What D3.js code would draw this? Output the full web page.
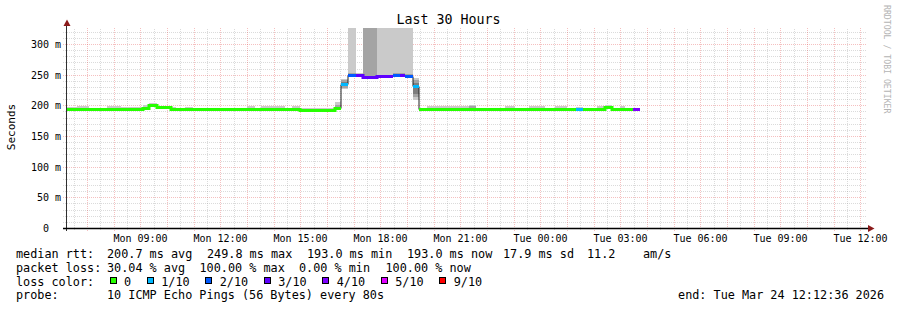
<!DOCTYPE html>
<html>
<head>
<meta charset="utf-8">
<script src="https://cdn.jsdelivr.net/npm/d3@7"></script>
<style>
    body { margin: 0; background: #fff; }
    svg text { font-family: 'DejaVu Sans Mono', monospace; white-space: pre; }
</style>
</head>
<body>
<svg id="chart" width="897" height="310"></svg>
<script>
const title = 'Last 30 Hours'
const yTitle = 'Seconds'
const watermark = 'RRDTOOL / TOBI OETIKER'
const monday = Date.UTC(2026, 2, 23)
const startTime = Date.UTC(2026, 2, 23, 6, 12, 36)
const endTime = Date.UTC(2026, 2, 24, 12, 12, 36)

// sample start times, hours after Mon 00:00 (each sample lasts until the next one)
const sampleHours = [6.21, 6.62, 7.07, 7.71, 8.27, 9.06, 9.32, 9.585, 10.11, 10.30, 10.635, 10.935,
    12.995, 13.26, 13.52, 14.385, 14.65, 14.95, 16.26, 16.485, 16.785, 17.05, 17.31, 17.835,
    18.435, 18.70, 18.92, 19.185, 19.41, 19.71, 21.32, 21.585, 22.635, 23.01, 23.57, 24.135,
    24.51, 24.96, 25.30, 25.56, 26.12, 26.385, 26.65, 26.95, 27.135, 27.435]
const lastSampleEnd = 27.70
// median rtt in ms
const medianMs = [194.5, 194.5, 194.5, 194.5, 194, 196, 200, 196.5, 194, 194, 194, 193.8,
    193.8, 193.8, 193.8, 193.5, 193.5, 193, 196, 235.5, 249.8, 249, 246, 247.5,
    249.8, 249.5, 248.5, 232, 193.5, 193.5, 193.5, 193.5, 193.5, 193.5, 193.3, 193.3,
    193.3, 193.3, 193.3, 193.3, 193.3, 197, 193.5, 193.5, 193.3, 193.3]
// lost pings out of 10
const lossCount = [0, 0, 0, 0, 0, 0, 0, 0, 0, 0, 0, 0,
    0, 0, 0, 0, 0, 0, 0, 1, 2, 3, 3, 3,
    2, 3, 2, 1, 0, 0, 0, 0, 0, 0, 0, 0,
    0, 0, 1, 0, 0, 0, 0, 0, 0, 4]
// smoke: spread of the pings (outer = min..max, then inner bands)
const smokeOuter = [[193, 197.5], [193, 199], [193, 196], [193, 199], [192.5, 196.5], [194, 200],
    [197, 204], [194.5, 199.5], [192.5, 198], [192.5, 196], [192.5, 198], [192.5, 196],
    [192.5, 198.5], [192.5, 196], [192.5, 198.5], [192.5, 195.5], [192.5, 199.5], [192, 195],
    [194, 205], [226, 243], [246, 400], [246, 252.5], [243, 400], [244, 400],
    [247, 400], [247, 400], [246, 400], [208, 245], [192.5, 195.5], [192.5, 199],
    [192.5, 201], [192.5, 196], [192.5, 198.5], [192.5, 196], [192.5, 199], [192.5, 196],
    [192.5, 199.5], [192.5, 196], [192.5, 198], [192.5, 196], [192.5, 199.5], [194, 200.5],
    [192.5, 196], [192.5, 198.5], [192.5, 195.5], [192.5, 195.5]]
const smokeMid = [null, null, null, null, null, null,
    [198, 202], null, null, null, null, null,
    null, null, null, null, null, null,
    [195, 201], [229, 241], [248, 253], null, [245, 400], [245.5, 250],
    [248, 252], [248, 252], [247, 251], [213, 242], null, null,
    [193, 199.5], null, null, null, null, null,
    null, null, null, null, null, null,
    null, null, null, null]
const smokeCore = [null, null, null, null, null, null,
    null, null, null, null, null, null,
    null, null, null, null, null, null,
    null, [232, 238], null, null, null, null,
    null, null, null, [219, 236], null, null,
    null, null, null, null, null, null,
    null, null, null, null, null, null,
    null, null, null, null]

const yTicks = [0, 50, 100, 150, 200, 250, 300]
const xTickHours = [9, 12, 15, 18, 21, 24, 27, 30, 33, 36]
const xTickLabels = ['Mon 09:00', 'Mon 12:00', 'Mon 15:00', 'Mon 18:00', 'Mon 21:00',
    'Tue 00:00', 'Tue 03:00', 'Tue 06:00', 'Tue 09:00', 'Tue 12:00']

const lossLevels = [0, 1, 2, 3, 4, 5, 9]
const lossLabels = ['0', '1/10', '2/10', '3/10', '4/10', '5/10', '9/10']
const lossColors = ['#26ff00', '#00b8ff', '#0059ff', '#5e00ff', '#7e00ff', '#dd00ff', '#ff0000']

const rttLegend = ['median rtt:', '200.7 ms avg', '249.8 ms max', '193.0 ms min', '193.0 ms now', '17.9 ms sd', '11.2', 'am/s']
const lossLegend = ['packet loss:', '30.04 % avg', '100.00 % max', '0.00 % min', '100.00 % now']
const probeLegend = ['probe:', '10 ICMP Echo Pings (56 Bytes) every 80s']
const endLegend = 'end: Tue Mar 24 12:12:36 2026'

const hourDate = h => new Date(monday + h * 3600e3)
const colorOf = n => lossColors[lossLevels.indexOf(n)] || lossColors[lossColors.length - 1]

const svg = d3.select('#chart')
const x = d3.scaleUtc().domain([startTime, endTime]).range([66.5, 866.5])
const y = d3.scaleLinear().domain([0, 326.1]).range([228, 28])
const px = d => Math.floor(x(d)) + 0.5
const py = v => Math.round(y(v)) + 0.5
const legendFont = '11.8px'

svg.append('rect').attr('width', 897).attr('height', 310).attr('fill', '#fff')

// grid
let grid = svg.append('g').attr('id', 'grid')
    .attr('stroke-dasharray', '1,1')
    .attr('stroke-width', 1)
let slots = d3.utcMinute.every(30).range(new Date(startTime), new Date(endTime))
grid.selectAll('line.minorX')
    .data(slots.filter(d => d.getUTCMinutes() === 30))
    .enter()
    .append('line')
    .attr('x1', d => px(d))
    .attr('x2', d => px(d))
    .attr('y1', 230)
    .attr('y2', 28)
    .attr('stroke', 'rgba(143,143,143,0.32)')
let minorY = d3.range(10, 330, 10).filter(v => v % 50 !== 0)
grid.selectAll('line.minorY')
    .data(minorY)
    .enter()
    .append('line')
    .attr('x1', 63)
    .attr('x2', 867)
    .attr('y1', d => py(d))
    .attr('y2', d => py(d))
    .attr('stroke', 'rgba(143,143,143,0.32)')
grid.selectAll('line.majorX')
    .data(slots.filter(d => d.getUTCMinutes() === 0))
    .enter()
    .append('line')
    .attr('x1', d => px(d))
    .attr('x2', d => px(d))
    .attr('y1', 231)
    .attr('y2', 28)
    .attr('stroke', 'rgba(222,48,48,0.3)')
grid.selectAll('line.majorY')
    .data(yTicks.slice(1))
    .enter()
    .append('line')
    .attr('x1', 63)
    .attr('x2', 867)
    .attr('y1', d => py(d))
    .attr('y2', d => py(d))
    .attr('stroke', 'rgba(222,48,48,0.3)')

// samples
let samples = sampleHours.map((h, i) => ({
    t0: hourDate(h),
    t1: hourDate(i + 1 < sampleHours.length ? sampleHours[i + 1] : lastSampleEnd),
    median: medianMs[i],
    loss: lossCount[i],
    outer: smokeOuter[i],
    mid: smokeMid[i],
    core: smokeCore[i]
}))

svg.append('clipPath').attr('id', 'plotClip')
    .append('rect')
    .attr('x', 66.5)
    .attr('y', 28)
    .attr('width', 800)
    .attr('height', 200)

let smoke = svg.append('g').attr('id', 'smoke')
    .attr('clip-path', 'url(#plotClip)')
    .attr('shape-rendering', 'crispEdges')
let bands = [['outer', '#cacaca'], ['mid', '#a4a4a4'], ['core', '#7e7e7e']]
bands.forEach(([key, color]) => {
    smoke.selectAll('rect.' + key)
        .data(samples.filter(d => d[key]))
        .enter()
        .append('rect')
        .attr('x', d => Math.round(x(d.t0)))
        .attr('width', d => Math.round(x(d.t1)) - Math.round(x(d.t0)))
        .attr('y', d => Math.round(y(d[key][1])))
        .attr('height', d => Math.round(y(d[key][0])) - Math.round(y(d[key][1])))
        .attr('fill', color)
})

// median: thin black step line, then loss coloured runs on top
let stepPoints = samples.map(d => [d.t0, d.median])
stepPoints.push([samples[samples.length - 1].t1, samples[samples.length - 1].median])
let stepLine = d3.line()
    .x(d => Math.round(x(d[0])))
    .y(d => Math.round(y(d[1])) + 0.5)
    .curve(d3.curveStepAfter)
svg.append('path')
    .attr('d', stepLine(stepPoints))
    .attr('fill', 'none')
    .attr('stroke', '#202020')
    .attr('stroke-width', 1)

let runs = []
samples.forEach(d => {
    let last = runs[runs.length - 1]
    if (last && last.loss === d.loss) last.items.push(d)
    else runs.push({ loss: d.loss, items: [d] })
})
svg.append('g').attr('id', 'median')
    .selectAll('path')
    .data(runs)
    .enter()
    .append('path')
    .attr('d', r => {
        let pts = r.items.map(d => [d.t0, d.median])
        let tail = r.items[r.items.length - 1]
        pts.push([tail.t1, tail.median])
        return stepLine(pts)
    })
    .attr('fill', 'none')
    .attr('stroke', r => colorOf(r.loss))
    .attr('stroke-width', 3)

// axes
svg.append('line')
    .attr('x1', 66.5).attr('x2', 66.5)
    .attr('y1', 231).attr('y2', 25)
    .attr('stroke', '#303030')
svg.append('line')
    .attr('x1', 63).attr('x2', 869)
    .attr('y1', 228.5).attr('y2', 228.5)
    .attr('stroke', '#000')
    .attr('stroke-width', 1.3)
svg.append('path')
    .attr('d', 'M63.5,26 L70.5,26 L67,19.5 Z')
    .attr('fill', '#8b1a1a')
svg.append('path')
    .attr('d', 'M868,225 L868,232 L874.5,228.5 Z')
    .attr('fill', '#8b1a1a')

// tick labels
svg.append('g').selectAll('text')
    .data(yTicks)
    .enter()
    .append('text')
    .attr('xml:space', 'preserve')
    .text(d => d === 0 ? '0  ' : d + ' m')
    .attr('x', 61)
    .attr('y', d => py(d) + 3.5)
    .attr('font-size', '10px')
    .attr('fill', '#000')
    .style('text-anchor', 'end')
svg.append('g').selectAll('text')
    .data(xTickHours)
    .enter()
    .append('text')
    .text((d, i) => xTickLabels[i])
    .attr('x', d => px(hourDate(d)))
    .attr('y', 241.5)
    .attr('font-size', '10px')
    .attr('fill', '#000')
    .style('text-anchor', 'middle')

// titles
svg.append('text')
    .text(title)
    .attr('x', 448.5)
    .attr('y', 23.5)
    .attr('font-size', '13.3px')
    .style('text-anchor', 'middle')
svg.append('text')
    .text(yTitle)
    .attr('transform', 'translate(15,127) rotate(-90)')
    .attr('font-size', '11px')
    .style('text-anchor', 'middle')
svg.append('text')
    .text(watermark)
    .attr('transform', 'translate(884,5) rotate(90)')
    .attr('font-size', '8.2px')
    .attr('fill', '#b4b4b4')
    .style('text-anchor', 'start')

// legend
let legend = svg.append('g').attr('id', 'legend').attr('font-size', legendFont)
let addRow = (items, cols, yy) => {
    legend.append('g').selectAll('text')
        .data(items)
        .enter()
        .append('text')
        .attr('xml:space', 'preserve')
        .text(d => d)
        .attr('x', (d, i) => cols[i])
        .attr('y', yy)
}
addRow(rttLegend, [16, 107, 207, 307, 407, 503, 587, 643], 258.2)
addRow(lossLegend, [16, 107, 199.5, 299, 385.5], 271.9)
addRow(['loss color:'], [16], 285.6)
addRow(probeLegend, [16, 107], 299.3)
legend.append('text')
    .text(endLegend)
    .attr('x', 884)
    .attr('y', 299.3)
    .style('text-anchor', 'end')

let boxX = []
lossLabels.forEach((l, i) => {
    boxX.push(i === 0 ? 109.5 : boxX[i - 1] + 15 + lossLabels[i - 1].length * 7.1 + 15.1)
})
let keys = legend.append('g').selectAll('g')
    .data(lossLabels)
    .enter()
    .append('g')
keys.append('rect')
    .attr('x', (d, i) => Math.round(boxX[i]) + 0.5)
    .attr('y', 277.5)
    .attr('width', 6)
    .attr('height', 6)
    .attr('fill', (d, i) => lossColors[i])
    .attr('stroke', '#000')
    .attr('stroke-width', 1)
keys.append('text')
    .text(d => d)
    .attr('x', (d, i) => boxX[i] + 14.5)
    .attr('y', 285.6)
</script>
</body>
</html>
